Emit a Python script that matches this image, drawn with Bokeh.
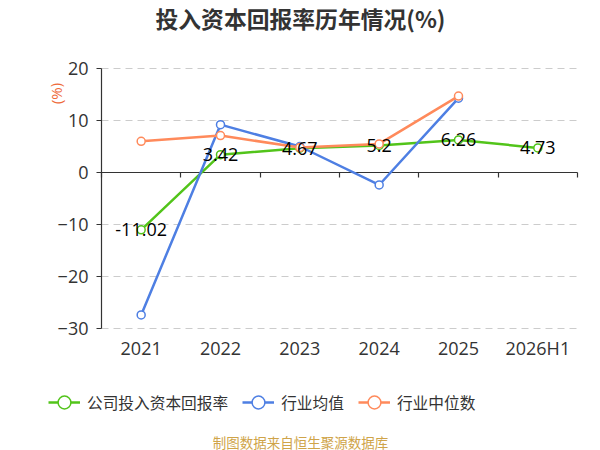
from bokeh.plotting import figure
from bokeh.models import (Range1d, FixedTicker, LinearAxis, Label, Legend, LegendItem,
                          ColumnDataSource, LabelSet)
from bokeh.core.properties import value
from bokeh.embed import file_html
from bokeh.resources import INLINE

# ---- data ----
categories = ["2021", "2022", "2023", "2024", "2025", "2026H1"]
company = [-11.02, 3.42, 4.67, 5.2, 6.26, 4.73]
industry_avg = [-27.4, 9.2, 5.0, -2.4, 14.3]
industry_median = [6.0, 7.1, 4.8, 5.5, 14.7]
y_ticks = [-30, -20, -10, 0, 10, 20]
series_names = ["公司投入资本回报率", "行业均值", "行业中位数"]
colors = ["#52c41a", "#4e7fe3", "#ff8a5b"]
title_text = "投入资本回报率历年情况(%)"
unit_text = "(%)"
source_text = "制图数据来自恒生聚源数据库"

NUM_FONT = "Open Sans"
CJK_FONT = "Noto Sans CJK SC"

# ---- layout (pixels) ----
W, H = 600, 450
PL, PR, PT, PB = 101, 577, 68, 328   # plot area within the canvas
n = len(categories)
x_idx = list(range(n))
boundaries = [i - 0.5 for i in range(n + 1)]
y_min, y_max = min(y_ticks), max(y_ticks)
xppu = (PR - PL) / n
yppu = (PB - PT) / (y_max - y_min)
x_start = -0.5 - PL / xppu
x_end = n - 0.5 + (W - PR) / xppu
y_end = y_max + PT / yppu
y_start = y_min - (H - PB) / yppu

p = figure(width=W, height=H, output_backend="svg", toolbar_location=None,
           x_range=Range1d(x_start, x_end), y_range=Range1d(y_start, y_end),
           x_axis_type=None, y_axis_type=None, min_border=0,
           background_fill_color="white", border_fill_color="white")
p.outline_line_color = None
p.xgrid.visible = False
p.ygrid.visible = False

# dashed horizontal grid lines over the plot area (zero line is the x axis)
grid_ticks = [t for t in y_ticks if t != 0]
p.segment(x0=[boundaries[0]] * len(grid_ticks), x1=[boundaries[-1]] * len(grid_ticks),
          y0=grid_ticks, y1=grid_ticks, line_color="#cccccc", line_width=1, line_dash="7 5")

# y axis
ya = LinearAxis(fixed_location=boundaries[0], bounds=(y_min, y_max),
                ticker=FixedTicker(ticks=y_ticks, minor_ticks=[]),
                major_tick_in=0, major_tick_out=5, minor_tick_line_color=None,
                axis_line_color="#333333", axis_line_width=1.2, major_tick_line_color="#333333",
                major_label_standoff=8, major_label_text_font=NUM_FONT,
                major_label_text_font_size="18px", major_label_text_color="#333333")
p.add_layout(ya, "left")

# x axis on the zero line, ticks on category boundaries, labels at the bottom
xa = LinearAxis(fixed_location=0, bounds=(boundaries[0], boundaries[-1]),
                ticker=FixedTicker(ticks=x_idx, minor_ticks=boundaries),
                major_label_overrides={i: c for i, c in zip(x_idx, categories)},
                major_tick_line_color=None, major_tick_in=0, major_tick_out=0,
                minor_tick_in=0, minor_tick_out=5, minor_tick_line_color="#333333",
                minor_tick_line_width=1.2,
                axis_line_color="#333333", axis_line_width=1.2,
                major_label_standoff=158, major_label_text_font=NUM_FONT,
                major_label_text_font_size="18px", major_label_text_color="#333333",
                level="underlay")
p.add_layout(xa, "below")

series = [company, industry_avg, industry_median]
items = []
for name, vals, col in zip(series_names, series, colors):
    src = ColumnDataSource(dict(x=x_idx[:len(vals)], y=vals))
    lr = p.line("x", "y", source=src, line_color=col, line_width=2.5)
    cr = p.scatter("x", "y", source=src, size=8, fill_color="white", line_color=col, line_width=1.5)
    items.append(LegendItem(label=name, renderers=[lr, cr]))

# data labels for company series
lab_src = ColumnDataSource(dict(x=x_idx, y=company, t=[str(v) for v in company]))
p.add_layout(LabelSet(x="x", y="y", text="t", source=lab_src, text_align="center",
                      text_baseline="middle", text_font=value(NUM_FONT), text_font_size="18px",
                      text_color="#000000"))

legend = Legend(items=items, orientation="horizontal", location=(48, H - 418),
                padding=0, margin=0, border_line_color=None, background_fill_alpha=0,
                glyph_width=32, glyph_height=32, label_height=20, label_standoff=7, spacing=14,
                label_text_font=CJK_FONT, label_text_font_size="15.7px", label_text_color="#333333")
p.add_layout(legend, "center")

p.add_layout(Label(x=300, y=H - 18, x_units="screen", y_units="screen", text=title_text,
                   text_align="center", text_baseline="middle",
                   text_font=CJK_FONT, text_font_size="22.8px", text_font_style="bold",
                   text_color="#333333"))
p.add_layout(Label(x=55, y=H - 93, x_units="screen", y_units="screen", text=unit_text,
                   angle=1.5708, text_align="center", text_baseline="middle",
                   text_font=NUM_FONT, text_font_size="15px", text_color="#ee6a3a"))
p.add_layout(Label(x=300, y=H - 441, x_units="screen", y_units="screen", text=source_text,
                   text_align="center", text_baseline="middle",
                   text_font=CJK_FONT, text_font_size="13.5px", text_color="#cfa449"))

open("out.html", "w").write(file_html(p, INLINE))
